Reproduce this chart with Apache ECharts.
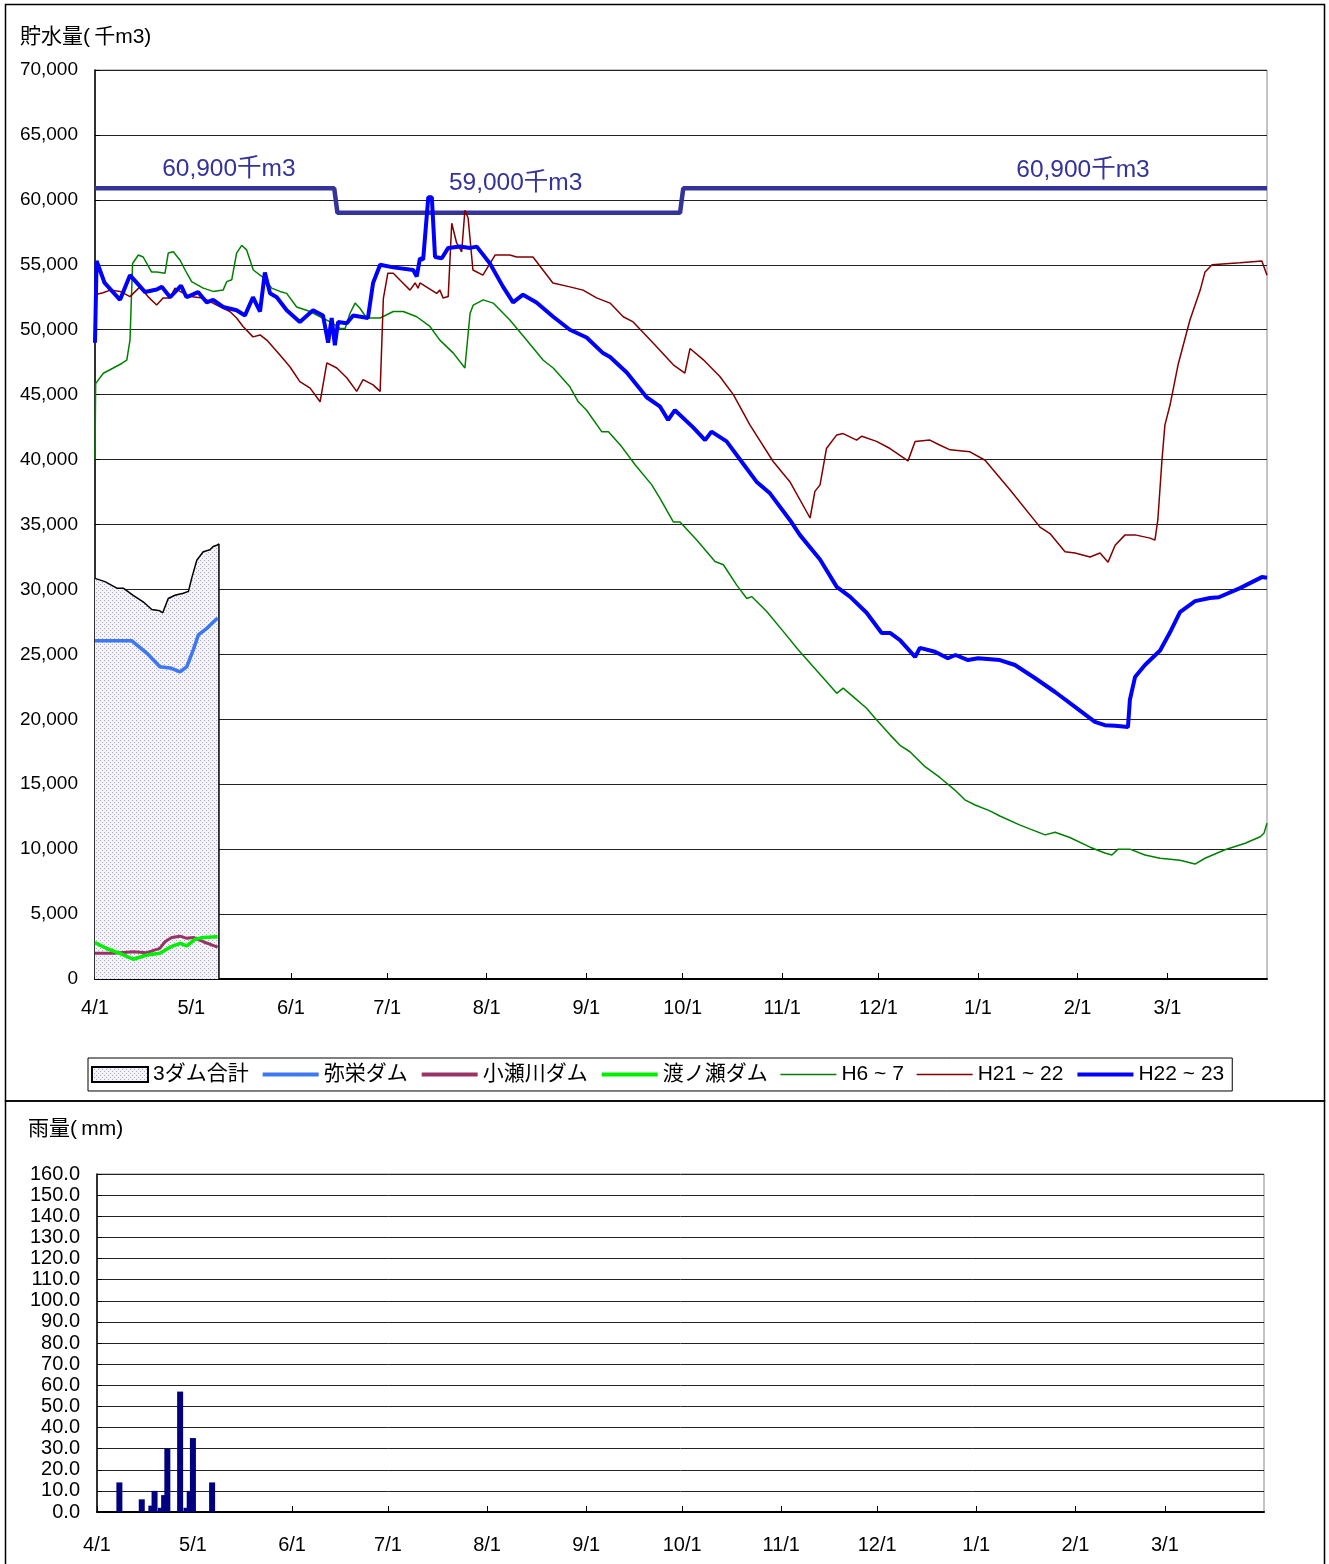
<!DOCTYPE html>
<html>
<head>
<meta charset="utf-8">
<script src="https://cdn.jsdelivr.net/npm/echarts@6/dist/echarts.min.js"></script>
<style>
  html, body { margin: 0; padding: 0; background: #fff; }
  #chart { width: 1329px; height: 1564px; }
</style>
</head>
<body>
<div id="chart"></div>
<script>
// x values are days counted from 4/1
const monthTicks = [0, 30, 61, 91, 122, 153, 183, 214, 244, 275, 306, 334];
const monthLabels = ['4/1', '5/1', '6/1', '7/1', '8/1', '9/1', '10/1', '11/1', '12/1', '1/1', '2/1', '3/1'];

const legendNames = ['3ダム合計', '弥栄ダム', '小瀬川ダム', '渡ノ瀬ダム', 'H6 ~ 7', 'H21 ~ 22', 'H22 ~ 23'];

// 3 dams total (this year, to ~5/9)
const total3 = [[0,30850],[3.1,30600],[6.8,30100],[8.8,30100],[11.9,29550],[15,29050],[17.7,28450],[20.2,28350],
  [21.1,28200],[22.8,29300],[24.9,29550],[27.5,29700],[29.1,29850],[30.1,30850],[31.7,32250],[33.7,32900],
  [35.8,33050],[36.8,33300],[37.9,33400],[38.6,33500],[38.6,0]];

const yasaka = [[0,26050],[5.7,26050],[11.4,26050],[16.1,25100],[20.2,24050],[23.4,23950],[26.5,23650],
  [28.6,24050],[30.6,25350],[32.2,26500],[34.8,27000],[38.2,27800]];

const kose = [[0,1980],[5.7,1980],[11.9,2100],[16.1,2030],[20.2,2360],[21.8,2870],[23.9,3200],[26.5,3300],
  [28.6,3130],[30.6,3200],[33.7,2870],[38.2,2450]];

const watarase = [[0,2800],[3.6,2350],[7.8,1980],[11.9,1520],[16.1,1850],[20.2,1980],[23.4,2450],[26.5,2750],
  [28.6,2550],[31.1,3050],[33.7,3200],[38.2,3250]];

const h6 = [[0,40000],[0.2,45850],[2.6,46650],[5.7,47050],[8.3,47400],[9.9,47650],[10.9,49200],[11.7,55100],
  [13.5,55750],[15,55600],[17.6,54450],[19.2,54450],[21.8,54350],[22.8,55900],[24.4,56000],[26.5,55350],
  [28.6,54350],[30.1,53700],[33.7,53200],[36.8,52950],[39.9,53050],[41,53700],[42.6,53850],[44.1,55900],
  [45.7,56500],[47.2,56150],[49.3,54600],[51.4,54200],[52.9,53950],[55,53200],[57.6,52950],[59.7,52800],
  [62.8,51750],[67,51400],[70.1,51000],[73.2,50600],[76.3,50100],[77.9,50100],[79.4,51250],[81,52050],
  [82.5,51650],[84.6,50900],[88.8,50900],[92.9,51400],[96,51400],[100.2,51000],[104.3,50250],[107.4,49200],
  [111.6,48200],[115.2,47050],[116.8,51250],[117.8,51900],[120.9,52300],[124,52050],[129.2,50750],[134.4,49200],
  [139.6,47650],[142.7,47050],[147.9,45600],[150.5,44450],[153.1,43800],[157.8,42150],[159.9,42150],[164,41000],
  [168.2,39600],[173.4,38050],[176,37000],[180.1,35200],[182.2,35200],[187.4,33800],[193.1,32150],[195.7,31900],
  [199.8,30350],[203,29300],[204.5,29450],[209.2,28300],[214.4,26750],[219,25350],[223.7,24050],[227.3,23050],
  [231,22000],[233,22400],[236.1,21750],[240.3,20850],[242.9,20100],[247.6,18800],[250.7,18000],[253.8,17500],
  [258.5,16350],[263.2,15500],[267.8,14550],[270.9,13800],[274.1,13400],[278.7,12950],[281.8,12550],[288.1,11850],
  [295.9,11100],[299,11300],[303.6,10900],[309.9,10150],[314.5,9700],[316.7,9550],[318.6,10000],[322.3,10000],
  [327,9550],[331.7,9300],[337.9,9150],[342.6,8850],[345.7,9300],[351.9,9950],[358.2,10450],[362.9,10950],
  [364.1,11250],[365,12000]];

const h21 = [[0,52700],[2.5,52850],[4.7,53050],[7.8,52950],[10.9,52550],[14,53300],[16.5,52550],[19.2,51900],
  [21.2,52450],[23.4,52450],[24.9,53200],[26.5,52950],[29.6,52550],[33.6,52450],[37.9,51900],[42,51400],
  [44.1,50900],[46.1,50250],[49.2,49450],[51.4,49600],[53.5,49200],[57.6,48050],[60.7,47150],[63.8,46000],
  [67,45500],[70.1,44450],[72.2,47450],[75.3,47050],[78.4,46300],[81.5,45250],[83.5,46150],[86.6,45750],
  [88.8,45250],[89.8,52400],[91.2,54350],[92.9,54350],[95.5,53700],[98.1,53050],[99.7,53600],[100.6,53200],
  [101.2,53600],[103.8,53200],[106.4,52800],[107.4,53050],[108.4,52450],[110,52550],[111.1,58200],[112.6,56700],
  [114.2,56000],[115.2,59200],[116.2,58600],[117.7,54600],[120.8,54200],[124.6,55750],[129.2,55750],[131.3,55600],
  [136.4,55600],[142.6,53600],[147.9,53300],[152,53050],[156.2,52450],[160.4,52050],[164.5,51000],[167.6,50600],
  [173.9,48950],[180.1,47300],[183.7,46650],[185.3,48550],[189.4,47700],[194.6,46400],[198.8,45000],[204,42650],
  [211.2,39850],[216.4,38300],[222.7,35500],[224.2,37550],[225.8,38050],[227.8,40850],[231,41900],[233,42000],
  [237.2,41500],[238.8,41800],[243.4,41400],[247.6,40850],[253.2,39900],[255.4,41400],[260,41500],[263.2,41100],
  [266.3,40750],[272.5,40600],[277.2,39950],[285,37650],[294.3,34800],[297.4,34300],[302.1,32900],[305.2,32800],
  [309.9,32500],[313,32800],[315.5,32100],[317.7,33400],[320.8,34200],[323.9,34200],[328.6,33950],[330.1,33800],
  [331,35350],[332.3,40000],[333.2,42650],[334.8,44200],[337.3,47300],[341,50750],[342.6,51900],[344.2,53050],
  [345.7,54450],[347.9,55000],[356.6,55150],[363.4,55300],[365,54200]];

const h22 = [[0,49000],[0.5,55300],[3,53600],[7.8,52300],[10.9,54200],[15.6,52900],[19.2,53100],[20.8,53300],
  [23.4,52500],[26.8,53400],[28.5,52500],[32.1,52900],[34.8,52100],[36.8,52300],[39.9,51750],[44.1,51500],
  [46.7,51100],[49.2,52500],[51.4,51400],[52.9,54400],[54.5,52800],[56.6,52500],[59.7,51500],[63.8,50600],
  [67.9,51500],[71,51100],[72.6,49000],[73.7,50900],[74.7,48800],[75.7,50600],[78.4,50500],[80.4,51100],
  [85,50900],[86.6,53600],[88.8,55000],[92.9,54800],[99.1,54600],[100.2,54100],[101.2,55500],[102.2,55400],
  [103.8,60200],[104.9,60200],[105.9,55600],[108,55500],[110,56300],[113.7,56400],[116.8,56300],[118.9,56400],
  [123,55100],[127.1,53300],[130.2,52100],[133.3,52700],[137.5,52100],[142.7,51000],[147.9,50000],[153.1,49400],
  [158.2,48200],[160.4,47900],[165.6,46700],[171.8,44800],[176,44070],[178.5,43050],[180.6,43800],[186.2,42500],
  [190,41500],[192,42150],[196.7,41400],[201.8,39700],[206,38300],[210.2,37400],[216.4,35350],[219.5,34200],
  [225.8,32300],[231,30200],[235.1,29450],[240.3,28200],[245,26650],[247.6,26650],[250.7,26100],[255.4,24800],
  [256.9,25500],[261.6,25200],[265.6,24700],[268,24950],[271.9,24560],[275,24700],[281.8,24560],[286.5,24180],
  [292.7,23180],[299,22100],[305.2,20950],[311.4,19800],[314.5,19550],[317.7,19500],[321.7,19400],[322.3,21500],
  [323.9,23250],[327,24180],[331.7,25300],[334.8,26700],[337.9,28260],[342.6,29100],[347.2,29340],[350,29400],
  [356.6,30100],[363.4,30950],[365,30900]];

// flood-season capacity line
const capacity = [[0,60900],[74.5,60900],[75.5,59000],[182.2,59000],[183.2,60900],[365,60900]];
const capNotes = [[41.7,62350,'60,900千m3'],[131,61250,'59,000千m3'],[307.7,62250,'60,900千m3']];

// rainfall (mm)
const rainDays = [7, 14, 17, 18, 20, 21, 22, 26, 28, 29, 30, 36];
const rainVals = [14, 6, 3, 10, 2, 8, 30, 57, 2, 10, 35, 14];

const FONT = "'Liberation Sans', 'Noto Sans CJK JP', sans-serif";

// dotted fill like the spreadsheet pattern
function dotPattern() {
  const c = document.createElement('canvas');
  c.width = 4; c.height = 4;
  const g = c.getContext('2d');
  g.fillStyle = '#f3f3f9';
  g.fillRect(0, 0, 4, 4);
  g.fillStyle = '#a9a9bb';
  g.fillRect(0, 0, 1, 1);
  g.fillRect(2, 2, 1, 1);
  return { image: c, repeat: 'repeat' };
}
const pattern = dotPattern();

function xAxisOf(gridIndex, margin) {
  return {
    type: 'value', gridIndex: gridIndex, min: 0, max: 365,
    axisLine: { show: true, lineStyle: { color: '#000', width: 2 } },
    axisTick: { show: true, inside: true, length: 6, customValues: monthTicks, lineStyle: { color: '#000' } },
    axisLabel: {
      customValues: monthTicks, margin: margin, fontSize: 20, color: '#000', fontFamily: FONT,
      formatter: function (v) { return monthLabels[monthTicks.indexOf(v)] || ''; }
    },
    splitLine: { show: false }
  };
}

function lineSeries(name, data, color, width) {
  return {
    name: name, type: 'line', data: data, symbol: 'none', showSymbol: false,
    xAxisIndex: 0, yAxisIndex: 0, animation: false,
    lineStyle: { color: color, width: width }, itemStyle: { color: color }
  };
}

// legend line thickness per item (thin for the past-year lines)
const legendWidths = [0, 4, 4, 4, 1.5, 1.5, 4];

const chart = echarts.init(document.getElementById('chart'));

chart.setOption({
  animation: false,
  textStyle: { fontFamily: FONT },
  title: [
    { text: '貯水量(\u2009千m3)', left: 15, top: 22, textStyle: { fontSize: 21, fontWeight: 'normal', color: '#000', fontFamily: FONT } },
    { text: '雨量(\u2009mm)', left: 23, top: 1114, textStyle: { fontSize: 21, fontWeight: 'normal', color: '#000', fontFamily: FONT } }
  ],
  graphic: [
    { type: 'rect', shape: { x: 5.5, y: 4.5, width: 1319, height: 1096.5 }, style: { fill: 'none', stroke: '#000', lineWidth: 1.5 }, z: -1 },
    { type: 'rect', shape: { x: 5.5, y: 1101, width: 1319, height: 470 }, style: { fill: 'none', stroke: '#000', lineWidth: 1.5 }, z: -1 }
  ],
  legend: {
    left: 88, top: 1058, padding: [6, 8, 6, 3], itemGap: 12, itemWidth: 56, itemHeight: 15,
    borderColor: '#000', borderWidth: 1, selectedMode: false,
    itemStyle: { opacity: 0 },
    textStyle: { fontSize: 21, color: '#000', fontFamily: FONT },
    data: legendNames.map(function (n, i) {
      if (i === 0) return { name: n, icon: 'rect', itemStyle: { color: pattern, borderColor: '#000', borderWidth: 2, opacity: 1 } };
      return { name: n, lineStyle: { width: legendWidths[i] } };
    })
  },
  grid: [
    { left: 95, right: 62, top: 70, bottom: 585, show: true, borderColor: '#888', borderWidth: 1, backgroundColor: 'transparent' },
    { left: 97, right: 65, top: 1174, bottom: 52, show: true, borderColor: '#888', borderWidth: 1, backgroundColor: 'transparent' }
  ],
  xAxis: [xAxisOf(0, 19), xAxisOf(1, 23)],
  yAxis: [
    {
      type: 'value', gridIndex: 0, min: 0, max: 70000, interval: 5000,
      axisLine: { show: true, lineStyle: { color: '#000', width: 1.5 } },
      axisTick: { show: true, inside: true, length: 5, lineStyle: { color: '#000' } },
      axisLabel: { margin: 17, fontSize: 19, color: '#000', fontFamily: FONT,
        formatter: function (v) { return v.toLocaleString('en-US'); } },
      splitLine: { show: true, lineStyle: { color: '#222', width: 1 } }
    },
    {
      type: 'value', gridIndex: 1, min: 0, max: 160, interval: 10,
      axisLine: { show: true, lineStyle: { color: '#000', width: 1.5 } },
      axisTick: { show: true, inside: true, length: 5, lineStyle: { color: '#000' } },
      axisLabel: { margin: 17, fontSize: 20, lineHeight: 18, color: '#000', fontFamily: FONT,
        formatter: function (v) { return v.toFixed(1); } },
      splitLine: { show: true, lineStyle: { color: '#222', width: 1 } }
    }
  ],
  series: [
    {
      name: 'capacity', type: 'line', data: capacity, symbol: 'none', xAxisIndex: 0, yAxisIndex: 0,
      lineStyle: { color: '#333399', width: 4.5 }, z: 1,
      markPoint: {
        symbol: 'circle', symbolSize: 0, silent: true,
        label: { show: true, position: 'inside', color: '#333399', fontSize: 24.5, fontFamily: FONT,
          formatter: function (p) { return p.name; } },
        data: capNotes.map(function (d) { return { name: d[2], coord: [d[0], d[1]] }; })
      }
    },
    {
      name: '3ダム合計', type: 'line', data: total3, symbol: 'none', xAxisIndex: 0, yAxisIndex: 0,
      lineStyle: { color: '#000', width: 1.5 }, itemStyle: { color: '#000' },
      areaStyle: { color: pattern, opacity: 1 }, z: 2
    },
    lineSeries('弥栄ダム', yasaka, '#3b78f2', 3.5),
    lineSeries('小瀬川ダム', kose, '#993366', 3),
    lineSeries('渡ノ瀬ダム', watarase, '#00ee00', 3.5),
    lineSeries('H6 ~ 7', h6, '#008000', 1.5),
    lineSeries('H21 ~ 22', h21, '#800000', 1.5),
    lineSeries('H22 ~ 23', h22, '#0000ff', 4),
    {
      name: '雨量', type: 'bar', xAxisIndex: 1, yAxisIndex: 1, barWidth: 6,
      data: rainDays.map(function (d, i) { return [d, rainVals[i]]; }),
      itemStyle: { color: '#000080' }
    }
  ]
});
</script>
</body>
</html>
